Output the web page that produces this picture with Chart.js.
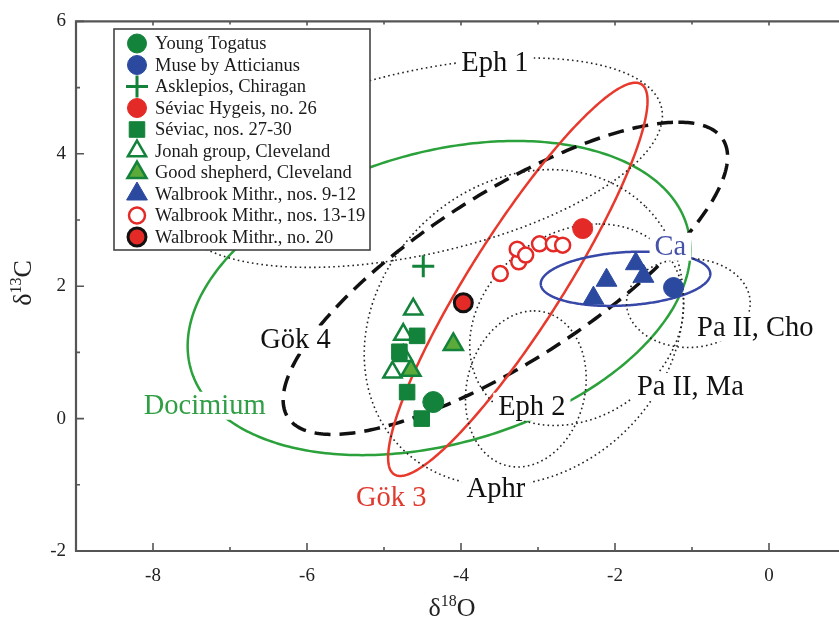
<!DOCTYPE html>
<html>
<head>
<meta charset="utf-8">
<script src="https://cdn.jsdelivr.net/npm/chart.js@4/dist/chart.umd.min.js"></script>
<style>
  html, body { margin: 0; padding: 0; background: #ffffff; overflow: hidden; }
  #wrap { position: relative; width: 860px; height: 628px; }
</style>
</head>
<body>
<div id="wrap"><canvas id="chart" width="860" height="628"></canvas></div>
<script>
// Axis ticks
const xTicks = [-8, -6, -4, -2, 0];
const yTicks = [-2, 0, 2, 4, 6];
const xMinorTicks = [-7, -5, -3, -1];
const yMinorTicks = [-1, 1, 3, 5];

// Samples: δ18O (x) and δ13C (y)
const youngTogatusX = [-4.36];
const youngTogatusY = [0.25];
const museX = [-1.24];
const museY = [1.98];
const asklepiosX = [-4.49];
const asklepiosY = [2.30];
const seviacHygeisX = [-2.42];
const seviacHygeisY = [2.87];
const seviacX = [-4.57, -4.80, -4.70, -4.51];
const seviacY = [1.25, 1.01, 0.40, 0.00];
const jonahX = [-4.62, -4.75, -4.75, -4.89];
const jonahY = [1.65, 1.27, 0.95, 0.70];
const shepherdX = [-4.10, -4.65];
const shepherdY = [1.12, 0.73];
const walbrook912X = [-2.11, -1.73, -1.63, -2.28];
const walbrook912Y = [2.09, 2.34, 2.15, 1.82];
const walbrook1319X = [-3.49, -3.25, -3.27, -3.16, -2.98, -2.80, -2.68];
const walbrook1319Y = [2.19, 2.37, 2.56, 2.47, 2.64, 2.64, 2.62];
const walbrook20X = [-3.97];
const walbrook20Y = [1.75];

// Quarry fields: centre and two conjugate semi-diameters (data units)
const fieldNames   = ['Docimium', 'Gök 4', 'Gök 3', 'Ca', 'Eph 1', 'Aphr', 'Eph 2', 'Pa II, Cho', 'Pa II, Ma'];
const fieldCentres = [[-4.285, 1.821], [-3.424, 2.119], [-3.262, 2.104], [-1.863, 2.112], [-4.544, 3.866], [-3.184, 1.373], [-3.158, 0.448], [-1.047, 1.746], [-2.497, 1.418]];
const fieldAxisU   = [[0.997, 2.373], [2.247, 2.358], [1.528, 2.970], [1.101, 0.075], [1.425, 1.582], [1.584, 1.825], [0.104, 1.179], [0, 0.672], [0.285, 1.522]];
const fieldAxisV   = [[3.109, 0], [1.811, 0], [0.709, 0], [0, -0.403], [2.820, 0], [1.337, -1.540], [0.777, 0], [0.803, 0], [1.360, 0]];

// Field labels: text and anchor (data units)
const labelTexts = ['Eph 1', 'Ca', 'Pa II, Cho', 'Gök 4', 'Pa II, Ma', 'Docimium', 'Eph 2', 'Gök 3', 'Aphr'];
const labelX = [-3.560, -1.280, -0.179, -6.150, -1.021, -7.329, -3.080, -4.907, -3.547];
const labelY = [5.373, 2.597, 1.373, 1.194, 0.478, 0.194, 0.179, -1.194, -1.060];

const SERIF = '"Liberation Serif", "Times New Roman", Times, serif';
const GREEN = '#13823a';
const BLUE = '#2b4a9f';
const RED = '#e42a27';

const fieldStyles = {
  'Docimium':   { color: '#2aa13a', width: 2.5, dash: [] },
  'Gök 4':      { color: '#111111', width: 3.5, dash: [16, 9] },
  'Gök 3':      { color: '#e8392d', width: 2.5, dash: [] },
  'Ca':         { color: '#3848a8', width: 2.5, dash: [] },
  'default':    { color: '#222222', width: 1.6, dash: [1.6, 3.2] }
};
const labelColors = { 'Docimium': '#2f9e44', 'Gök 3': '#e03a2e', 'Ca': '#4652a8' };

function pts(xs, ys) { return xs.map((v, i) => ({ x: v, y: ys[i] })); }

// Outlines of the quarry fields plus their names, drawn under the samples
const fieldsPlugin = {
  id: 'fields',
  beforeDatasetsDraw(chart) {
    const { ctx, chartArea: a, scales: { x, y } } = chart;
    ctx.save();
    ctx.beginPath();
    ctx.rect(a.left, a.top, a.right - a.left, a.bottom - a.top);
    ctx.clip();
    fieldNames.forEach((name, k) => {
      const st = fieldStyles[name] || fieldStyles['default'];
      const c = fieldCentres[k], u = fieldAxisU[k], v = fieldAxisV[k];
      ctx.beginPath();
      const N = 360;
      for (let i = 0; i <= N; i++) {
        const t = i / N * Math.PI * 2;
        const px = x.getPixelForValue(c[0] + u[0] * Math.cos(t) + v[0] * Math.sin(t));
        const py = y.getPixelForValue(c[1] + u[1] * Math.cos(t) + v[1] * Math.sin(t));
        if (i === 0) ctx.moveTo(px, py); else ctx.lineTo(px, py);
      }
      ctx.closePath();
      ctx.lineWidth = st.width;
      ctx.strokeStyle = st.color;
      ctx.setLineDash(st.dash);
      ctx.stroke();
    });
    ctx.setLineDash([]);
    ctx.font = '28.5px ' + SERIF;
    ctx.textAlign = 'center';
    ctx.textBaseline = 'middle';
    labelTexts.forEach((txt, k) => {
      const px = x.getPixelForValue(labelX[k]);
      const py = y.getPixelForValue(labelY[k]);
      const w = ctx.measureText(txt).width;
      ctx.fillStyle = '#ffffff';
      ctx.fillRect(px - w / 2 - 5, py - 14, w + 10, 28);
      ctx.fillStyle = labelColors[txt] || '#111111';
      ctx.fillText(txt, px, py + 1);
    });
    ctx.restore();
  }
};

// Open frame with inward ticks and the two axis titles
const framePlugin = {
  id: 'frame',
  afterDatasetsDraw(chart) {
    const { ctx, chartArea: a, scales: { x, y } } = chart;
    ctx.save();
    ctx.strokeStyle = '#555555';
    ctx.lineWidth = 2.2;
    ctx.beginPath();
    ctx.moveTo(a.right + 20, a.top); ctx.lineTo(a.left, a.top);
    ctx.lineTo(a.left, a.bottom); ctx.lineTo(a.right + 20, a.bottom);
    ctx.stroke();
    ctx.lineWidth = 1.6;
    ctx.beginPath();
    xTicks.forEach(v => { const p = x.getPixelForValue(v); ctx.moveTo(p, a.bottom); ctx.lineTo(p, a.bottom - 8); ctx.moveTo(p, a.top); ctx.lineTo(p, a.top + 4); });
    xMinorTicks.forEach(v => { const p = x.getPixelForValue(v); ctx.moveTo(p, a.bottom); ctx.lineTo(p, a.bottom - 4); ctx.moveTo(p, a.top); ctx.lineTo(p, a.top + 3); });
    yTicks.forEach(v => { const p = y.getPixelForValue(v); ctx.moveTo(a.left, p); ctx.lineTo(a.left + 8, p); });
    yMinorTicks.forEach(v => { const p = y.getPixelForValue(v); ctx.moveTo(a.left, p); ctx.lineTo(a.left + 4, p); });
    ctx.stroke();

    ctx.fillStyle = '#222222';
    ctx.textBaseline = 'alphabetic';
    function drawSup(parts, cx, cy) {
      let total = 0;
      parts.forEach(p => { ctx.font = (p.sup ? '16px ' : '26px ') + SERIF; total += ctx.measureText(p.t).width; });
      let xx = cx - total / 2;
      ctx.textAlign = 'left';
      parts.forEach(p => {
        ctx.font = (p.sup ? '16px ' : '26px ') + SERIF;
        ctx.fillText(p.t, xx, p.sup ? cy - 10 : cy);
        xx += ctx.measureText(p.t).width;
      });
    }
    drawSup([{ t: 'δ' }, { t: '18', sup: true }, { t: 'O' }], 452, 616);
    ctx.save();
    ctx.translate(31, 283);
    ctx.rotate(-Math.PI / 2);
    drawSup([{ t: 'δ' }, { t: '13', sup: true }, { t: 'C' }], 0, 0);
    ctx.restore();
    ctx.restore();
  }
};

// Boxed legend in the upper left of the plot
const legendPlugin = {
  id: 'boxLegend',
  afterDraw(chart) {
    const { ctx } = chart;
    ctx.save();
    const bx = 114, by = 29, bw = 256, bh = 221;
    ctx.fillStyle = '#ffffff';
    ctx.fillRect(bx, by, bw, bh);
    ctx.strokeStyle = '#444444';
    ctx.lineWidth = 1.6;
    ctx.strokeRect(bx, by, bw, bh);
    ctx.font = '18.5px ' + SERIF;
    ctx.textBaseline = 'middle';
    ctx.textAlign = 'left';
    chart.data.datasets.forEach((ds, i) => {
      const cy = 43.5 + i * 21.5;
      ctx.fillStyle = ds.backgroundColor;
      ctx.strokeStyle = ds.borderColor;
      ctx.lineWidth = ds.borderWidth;
      Chart.helpers.drawPoint(ctx, { pointStyle: ds.pointStyle, radius: ds.legendRadius, rotation: 0, borderWidth: ds.borderWidth }, 137, cy);
      ctx.fillStyle = '#1a1a1a';
      ctx.fillText(ds.label, 155, cy + 1);
    });
    ctx.restore();
  }
};

const datasets = [
  { label: 'Young Togatus', data: pts(youngTogatusX, youngTogatusY), pointStyle: 'circle', pointRadius: 10.5, legendRadius: 9.5, backgroundColor: GREEN, borderColor: GREEN, borderWidth: 1 },
  { label: 'Muse by Atticianus', data: pts(museX, museY), pointStyle: 'circle', pointRadius: 10, legendRadius: 9.5, backgroundColor: BLUE, borderColor: BLUE, borderWidth: 1 },
  { label: 'Asklepios, Chiragan', data: pts(asklepiosX, asklepiosY), pointStyle: 'cross', pointRadius: 11, legendRadius: 11, backgroundColor: GREEN, borderColor: GREEN, borderWidth: 3 },
  { label: 'Séviac Hygeis, no. 26', data: pts(seviacHygeisX, seviacHygeisY), pointStyle: 'circle', pointRadius: 10, legendRadius: 9.5, backgroundColor: RED, borderColor: RED, borderWidth: 1 },
  { label: 'Séviac, nos. 27-30', data: pts(seviacX, seviacY), pointStyle: 'rect', pointRadius: 11, legendRadius: 11, backgroundColor: GREEN, borderColor: GREEN, borderWidth: 1 },
  { label: 'Jonah group, Cleveland', data: pts(jonahX, jonahY), pointStyle: 'triangle', pointRadius: 10.5, legendRadius: 10.5, backgroundColor: '#ffffff', borderColor: GREEN, borderWidth: 2.5 },
  { label: 'Good shepherd, Cleveland', data: pts(shepherdX, shepherdY), pointStyle: 'triangle', pointRadius: 11, legendRadius: 11, backgroundColor: '#5cab3a', borderColor: GREEN, borderWidth: 2.5 },
  { label: 'Walbrook Mithr., nos. 9-12', data: pts(walbrook912X, walbrook912Y), pointStyle: 'triangle', pointRadius: 12, legendRadius: 12, backgroundColor: BLUE, borderColor: BLUE, borderWidth: 1 },
  { label: 'Walbrook Mithr., nos. 13-19', data: pts(walbrook1319X, walbrook1319Y), pointStyle: 'circle', pointRadius: 7.5, legendRadius: 8, backgroundColor: '#ffffff', borderColor: RED, borderWidth: 2.5 },
  { label: 'Walbrook Mithr., no. 20', data: pts(walbrook20X, walbrook20Y), pointStyle: 'circle', pointRadius: 9, legendRadius: 9, backgroundColor: RED, borderColor: '#111111', borderWidth: 3 }
];

new Chart(document.getElementById('chart'), {
  type: 'scatter',
  data: { datasets },
  options: {
    responsive: false,
    animation: false,
    events: [],
    layout: { padding: { left: 0, top: 15, right: 12, bottom: 0 } },
    plugins: { legend: { display: false }, tooltip: { enabled: false } },
    elements: { point: { hoverRadius: 0 } },
    scales: {
      x: {
        type: 'linear', min: -9, max: 1,
        afterFit(s) { s.height = 77; },
        afterBuildTicks(s) { s.ticks = xTicks.map(v => ({ value: v })); },
        grid: { display: false, drawTicks: false },
        border: { display: false },
        ticks: { color: '#222222', padding: 14, font: { family: SERIF, size: 19 }, maxRotation: 0, autoSkip: false }
      },
      y: {
        type: 'linear', min: -2, max: 6,
        afterFit(s) { s.width = 76; },
        afterBuildTicks(s) { s.ticks = yTicks.map(v => ({ value: v })); },
        grid: { display: false, drawTicks: false },
        border: { display: false },
        ticks: { color: '#222222', padding: 10, font: { family: SERIF, size: 19 }, autoSkip: false }
      }
    }
  },
  plugins: [fieldsPlugin, framePlugin, legendPlugin]
});
</script>
</body>
</html>
